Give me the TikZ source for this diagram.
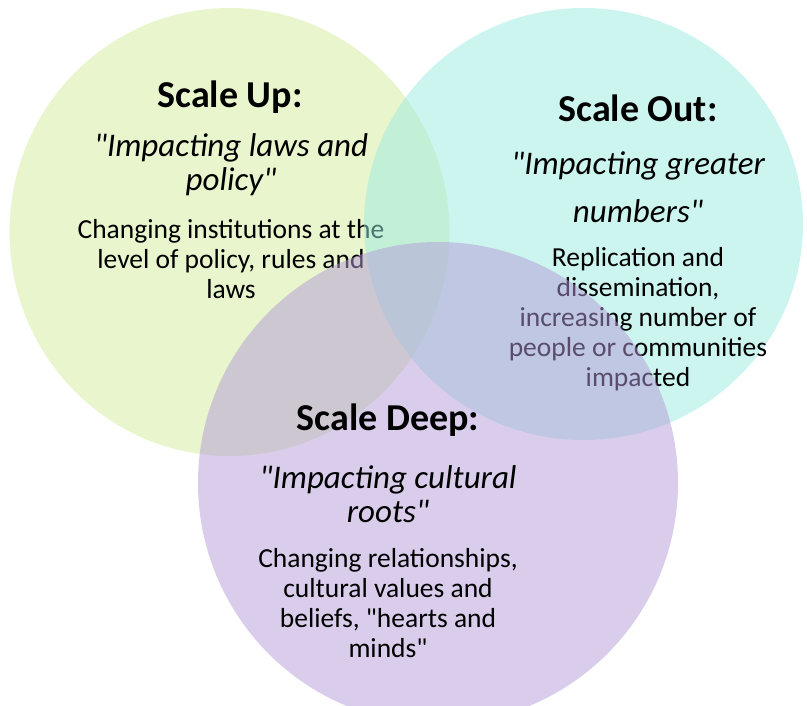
\documentclass[tikz,border=0pt]{standalone}
\usepackage{fontspec}
\setmainfont{Carlito}[Ligatures=TeXOff]
\usepackage{xcolor}
\usepackage{tikz}
\usetikzlibrary{shapes.geometric, positioning}
\definecolor{upgreen}{RGB}{211,235,155}
\definecolor{outteal}{RGB}{155,235,225}
\definecolor{deeppurple}{RGB}{179,155,215}
\tikzstyle{bubble} = [ellipse, inner sep=0pt, fill opacity=0.5, draw=none]
\tikzstyle{heading} = [font=\fontsize{38}{42}\selectfont\bfseries, text=black, align=center]
\tikzstyle{quote} = [font=\fontsize{33}{34}\selectfont\itshape, text=black, align=center]
\tikzstyle{body} = [font=\fontsize{27.5}{30}\selectfont, text=black, align=center]

\begin{document}
\begin{tikzpicture}[x=1pt, y=-1pt]
	\useasboundingbox (0,0) rectangle (807,706);
	
	% Scale Up
	\node (upcircle) [bubble, fill=upgreen, minimum width=440pt, minimum height=448pt] at (229.5,232) {};
	\node (uptitle) [heading] at (230,97) {Scale Up:};
	\node (upquote) [quote] at (231,165) {"Impacting laws and\\policy"};
	\node (uptext) [body] at (231,259) {Changing institutions at the\\level of policy, rules and\\laws};
	
	% Scale Out
	\node (outcircle) [bubble, fill=outteal, minimum width=439pt, minimum height=432pt] at (583.5,224) {};
	\node (outtitle) [heading] at (638,108) {Scale Out:};
	\node (outquote) [quote] at (638,187) {"Impacting greater\\[14pt]numbers"};
	\node (outtext) [body] at (638,319) {Replication and\\dissemination,\\increasing number of\\people or communities\\impacted};
	
	% Scale Deep
	\node (deepcircle) [bubble, fill=deeppurple, minimum width=480pt, minimum height=482pt] at (438,483) {};
	\node (deeptitle) [heading] at (388,420) {Scale Deep:};
	\node (deepquote) [quote] at (388,494) {"Impacting cultural\\roots"};
	\node (deeptext) [body] at (388,603) {Changing relationships,\\cultural values and\\beliefs, "hearts and\\minds"};
	
\end{tikzpicture}
\end{document}
